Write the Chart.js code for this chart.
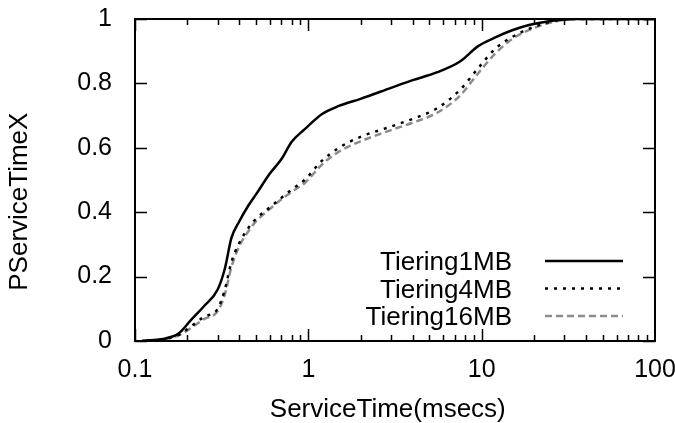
<!DOCTYPE html>
<html>
<head>
<meta charset="utf-8">
<script src="https://cdn.jsdelivr.net/npm/chart.js@4/dist/chart.umd.min.js"></script>
<style>
  html, body { margin: 0; padding: 0; background: #fff; }
  canvas { display: block; }
</style>
</head>
<body>
<canvas id="cdf" width="675" height="423"></canvas>
<script>
// service time (msecs) sample points
const serviceTimes = [0.11, 0.12, 0.15, 0.18, 0.21, 0.25, 0.3, 0.33, 0.36, 0.4, 0.45, 0.5, 0.6, 0.7, 0.8, 0.95,
    1.2, 1.5, 2, 3, 4, 5.5, 7.5, 9.5, 12, 15, 19, 25, 35, 50, 70, 100];

const tiering1MB = [0, 0.002, 0.008, 0.025, 0.065, 0.108, 0.16, 0.225, 0.32, 0.372, 0.42, 0.456, 0.52, 0.565, 0.618, 0.657,
    0.705, 0.73, 0.752, 0.786, 0.81, 0.834, 0.868, 0.915, 0.943, 0.965, 0.982, 0.994, 1, 1, 1, 1];

const tiering4MB = [0, 0.001, 0.007, 0.02, 0.045, 0.075, 0.1, 0.16, 0.245, 0.305, 0.35, 0.38, 0.415, 0.445, 0.47, 0.5,
    0.56, 0.6, 0.634, 0.666, 0.69, 0.722, 0.78, 0.846, 0.908, 0.944, 0.971, 0.991, 1, 1, 1, 1];

const tiering16MB = [0, 0.001, 0.006, 0.018, 0.04, 0.068, 0.093, 0.145, 0.23, 0.295, 0.34, 0.372, 0.41, 0.44, 0.463, 0.49,
    0.548, 0.588, 0.62, 0.655, 0.678, 0.708, 0.762, 0.83, 0.893, 0.938, 0.967, 0.989, 1, 1, 1, 1];

const seriesNames = ["Tiering1MB", "Tiering4MB", "Tiering16MB"];
const xTickValues = [0.1, 1, 10, 100];
const yTickValues = [0, 0.2, 0.4, 0.6, 0.8, 1];

const FONT = "'Liberation Sans', Arial, Helvetica, sans-serif";

function points(ys) {
    return serviceTimes.map((x, i) => ({x: x, y: ys[i]}));
}

// gnuplot style box, ticks pointing inwards on all four sides
const frame = {
    id: "frame",
    afterDraw(chart) {
        const ctx = chart.ctx;
        const a = chart.chartArea;
        const sx = chart.scales.x, sy = chart.scales.y;
        ctx.save();
        ctx.strokeStyle = "#000";
        ctx.lineWidth = 1.5;
        ctx.beginPath();
        [0.1, 1, 10].forEach(d => {
            for (let m = 1; m < 10; m++) {
                const px = Math.round(sx.getPixelForValue(d * m)) + 0.5;
                const len = m === 1 ? 12 : 6;
                ctx.moveTo(px, a.bottom); ctx.lineTo(px, a.bottom - len);
                ctx.moveTo(px, a.top); ctx.lineTo(px, a.top + len);
            }
        });
        yTickValues.forEach(v => {
            const py = Math.round(sy.getPixelForValue(v)) + 0.5;
            ctx.moveTo(a.left, py); ctx.lineTo(a.left + 12, py);
            ctx.moveTo(a.right, py); ctx.lineTo(a.right - 12, py);
        });
        ctx.stroke();
        ctx.lineWidth = 2;
        ctx.strokeRect(a.left, a.top, a.right - a.left, a.bottom - a.top);
        ctx.restore();
    }
};

// key in the lower right: label first, line sample after it
const key = {
    id: "key",
    afterDraw(chart) {
        const ctx = chart.ctx;
        const a = chart.chartArea;
        ctx.save();
        ctx.font = "26px " + FONT;
        ctx.fillStyle = "#000";
        ctx.textAlign = "right";
        ctx.textBaseline = "middle";
        chart.data.datasets.forEach((ds, i) => {
            const y = a.bottom - 80 + i * 27.5;
            ctx.fillText(ds.label, a.right - 143, y + 2);
            ctx.strokeStyle = ds.borderColor;
            ctx.lineWidth = ds.borderWidth;
            ctx.setLineDash(ds.borderDash || []);
            ctx.beginPath();
            ctx.moveTo(a.right - 110, y);
            ctx.lineTo(a.right - 32, y);
            ctx.stroke();
        });
        ctx.restore();
    }
};

new Chart(document.getElementById("cdf"), {
    type: "line",
    data: {
        datasets: [{
            label: seriesNames[0],
            data: points(tiering1MB),
            borderColor: "#000",
            borderWidth: 2.5
        }, {
            label: seriesNames[1],
            data: points(tiering4MB),
            borderColor: "#000",
            borderWidth: 2.5,
            borderDash: [3, 6]
        }, {
            label: seriesNames[2],
            data: points(tiering16MB),
            borderColor: "#8c8c8c",
            borderWidth: 2.5,
            borderDash: [7, 4]
        }]
    },
    options: {
        responsive: false,
        animation: false,
        layout: {padding: {top: 19, right: 20, left: 0, bottom: 0}},
        elements: {
            point: {radius: 0},
            line: {cubicInterpolationMode: "monotone", fill: false}
        },
        plugins: {
            legend: {display: false},
            tooltip: {enabled: false}
        },
        scales: {
            x: {
                type: "logarithmic",
                min: 0.1,
                max: 100,
                grid: {display: false, drawTicks: false},
                border: {display: false},
                afterBuildTicks: s => { s.ticks = xTickValues.map(v => ({value: v})); },
                afterFit: s => { s.height = 82; s.paddingLeft = 0; s.paddingRight = 0; },
                ticks: {
                    autoSkip: false,
                    maxRotation: 0,
                    padding: 14,
                    color: "#000",
                    font: {family: FONT, size: 25},
                    callback: v => String(v)
                },
                title: {
                    display: true,
                    text: "ServiceTime(msecs)  ",
                    color: "#000",
                    font: {family: FONT, size: 26},
                    padding: {top: 0, bottom: -2}
                }
            },
            y: {
                min: 0,
                max: 1,
                grid: {display: false, drawTicks: false},
                border: {display: false},
                afterBuildTicks: s => { s.ticks = yTickValues.map(v => ({value: v})); },
                afterFit: s => { s.width = 135; s.paddingTop = 0; s.paddingBottom = 0; },
                ticks: {
                    padding: 23,
                    color: "#000",
                    font: {family: FONT, size: 25},
                    callback: v => String(v)
                },
                title: {
                    display: true,
                    text: "PServiceTimeX      ",
                    color: "#000",
                    font: {family: FONT, size: 26},
                    padding: {top: 4, bottom: 0}
                }
            }
        }
    },
    plugins: [frame, key]
});
</script>
</body>
</html>
